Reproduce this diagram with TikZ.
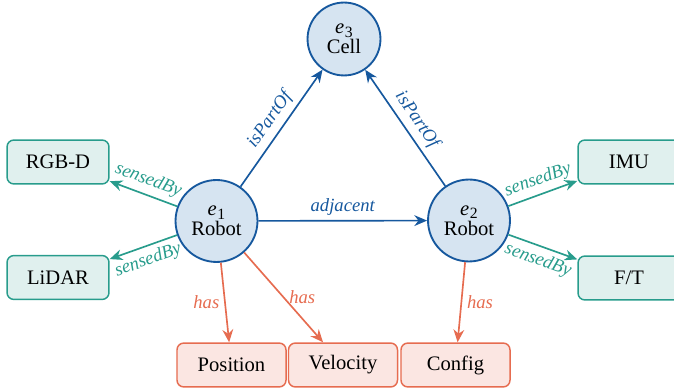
\documentclass[tikz,border=0pt]{standalone}
\usepackage{fontspec}
\setmainfont{Liberation Serif}
\usetikzlibrary{arrows.meta}

\definecolor{entblue}{RGB}{22,88,158}
\definecolor{entfill}{RGB}{214,228,241}
\definecolor{senteal}{RGB}{40,156,140}
\definecolor{senfill}{RGB}{224,240,238}
\definecolor{attred}{RGB}{230,108,80}
\definecolor{attfill}{RGB}{251,230,226}

% entity symbol e with a subscript index
\newcommand{\entsym}[1]{\textit{e}\kern0.3pt\raisebox{-0.35ex}{\fontsize{8}{9}\selectfont #1}}
\newcommand{\nodefont}{\fontsize{10.5}{12}\selectfont}
\newcommand{\lblfont}{\fontsize{9.5}{11}\selectfont\itshape}

\tikzset{
  entity/.style={circle, draw=entblue, fill=entfill, line width=0.95pt,
    inner sep=1pt, align=center, font=\nodefont},
  sensor/.style={rectangle, rounded corners=3.5pt, draw=senteal, fill=senfill,
    line width=0.75pt, minimum width=52pt, minimum height=22.4pt, font=\nodefont},
  attr/.style={rectangle, rounded corners=3.5pt, draw=attred, fill=attfill,
    line width=0.75pt, minimum width=55.6pt, minimum height=22.4pt, font=\nodefont},
  rel/.style={draw=entblue, line width=0.85pt, -{Stealth[length=6.5pt,width=5.5pt]}},
  senses/.style={draw=senteal, line width=0.85pt, -{Stealth[length=6.5pt,width=5.5pt]}},
  owns/.style={draw=attred, line width=0.85pt, -{Stealth[length=6.5pt,width=5.5pt]}},
  lbl/.style={font=\lblfont, inner sep=2.5pt}
}

\begin{document}
\begin{tikzpicture}[x=0.51pt, y=-0.51pt]
  \useasboundingbox (0,0) rectangle (674,391);
  \begin{scope}
  \clip (0,0) rectangle (674,391);

  % entities
  \node[entity, minimum size=37.2pt] (e3) at (344,39) {\entsym{3}\\[-2pt]Cell};
  \node[entity, minimum size=41.8pt] (e1) at (216.5,221) {\entsym{1}\\[-2pt]Robot};
  \node[entity, minimum size=41.8pt] (e2) at (469,220.5) {\entsym{2}\\[-2pt]Robot};

  % sensors
  \node[sensor] (rgbd) at (58,162) {RGB-D};
  \node[sensor] (lidar) at (58,277.5) {LiDAR};
  \node[sensor] (imu) at (629,162) {IMU};
  \node[sensor] (ft) at (629,278) {F/T};

  % attributes
  \node[attr] (pos) at (231.5,365) {Position};
  \node[attr] (vel) at (343,365) {Velocity};
  \node[attr] (cfg) at (455.5,365) {Config};

  % entity relations
  \draw[rel] (e1) -- node[lbl, text=entblue, above, sloped] {isPartOf} (e3);
  \draw[rel] (e2) -- node[lbl, text=entblue, above, sloped] {isPartOf} (e3);
  \draw[rel] (e1) -- node[lbl, text=entblue, above] {adjacent} (e2);

  % sensing relations
  \draw[senses] (e1) -- node[lbl, text=senteal, above, sloped] {sensedBy} (rgbd);
  \draw[senses] (e1) -- node[lbl, text=senteal, below, sloped] {sensedBy} (lidar);
  \draw[senses] (e2) -- node[lbl, text=senteal, above, sloped] {sensedBy} (imu);
  \draw[senses] (e2) -- node[lbl, text=senteal, below, sloped] {sensedBy} (ft);

  % attribute relations
  \draw[owns] (e1) -- node[lbl, text=attred, left] {has} (pos);
  \draw[owns] (e1) -- node[lbl, text=attred, right] {has} (vel);
  \draw[owns] (e2) -- node[lbl, text=attred, right] {has} (cfg);
  \end{scope}
\end{tikzpicture}
\end{document}
